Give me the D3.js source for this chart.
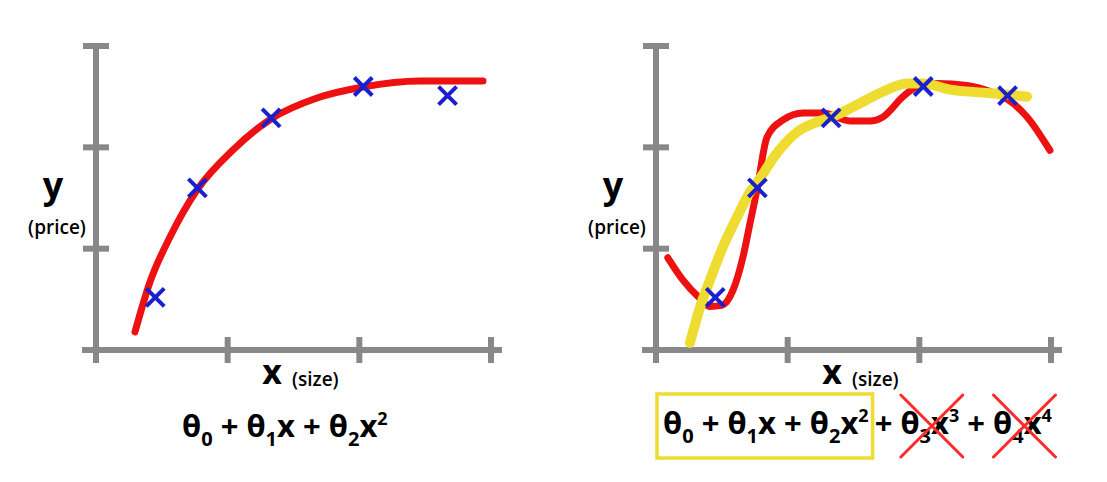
<!DOCTYPE html>
<html>
<head>
<meta charset="utf-8">
<script src="https://cdn.jsdelivr.net/npm/d3@7"></script>
<style>
  html, body { margin: 0; padding: 0; background: #ffffff; }
  svg { display: block; font-family: "Open Sans", "DejaVu Sans", sans-serif; }
</style>
</head>
<body>
<svg id="chart" width="1107" height="482"></svg>
<script>
// ---------- data (x = size, y = price, arbitrary units) ----------
const xTicks = [0, 1, 2, 3];
const yTicks = [0, 1, 2, 3];

const pointsX = [0.45, 0.77, 1.33, 2.03, 2.67];
const pointsY = [0.52, 1.60, 2.29, 2.60, 2.51];

// left panel: quadratic fit (red)
const quadX = [0.296, 0.41, 0.562, 0.767, 1.04, 1.329, 1.678, 2.028, 2.461, 2.939];
const quadY = [0.178, 0.671, 1.115, 1.579, 1.974, 2.28, 2.487, 2.596, 2.655, 2.655];

// right panel: 4th-order overfit (red)
const overX = [0.09, 0.205, 0.334, 0.41, 0.50, 0.585, 0.661, 0.714, 0.767, 0.843, 0.965, 1.116, 1.268, 1.473, 1.625, 1.724, 1.876, 1.982, 2.134, 2.362, 2.537, 2.673, 2.818, 2.992];
const overY = [0.91, 0.69, 0.51, 0.43, 0.44, 0.59, 0.92, 1.25, 1.58, 2.10, 2.27, 2.34, 2.34, 2.26, 2.26, 2.30, 2.50, 2.60, 2.63, 2.61, 2.55, 2.47, 2.30, 1.97];

// right panel: quadratic fit (yellow)
const fitX = [0.258, 0.334, 0.41, 0.509, 0.615, 0.714, 0.767, 0.919, 1.071, 1.223, 1.337, 1.527, 1.724, 1.906, 2.028, 2.233, 2.483, 2.673, 2.818];
const fitY = [0.07, 0.42, 0.69, 1.02, 1.31, 1.56, 1.65, 1.945, 2.15, 2.25, 2.30, 2.42, 2.55, 2.63, 2.63, 2.57, 2.54, 2.52, 2.50];

const yLabel = "y";
const yUnit = "(price)";
const xLabel = "x";
const xUnit = "(size)";

// formula tokens: base text, optional subscript, optional superscript
const formulaKept = [
  {b: "θ", sub: "0"}, {b: " + θ", sub: "1"}, {b: "x + θ", sub: "2"}, {b: "x", sup: "2"}
];
const formulaDropped = [
  {b: "+ "}, {b: "θ", sub: "3", cross: "start"}, {b: "x", sup: "3", cross: "end"},
  {b: " + "}, {b: "θ", sub: "4", cross: "start"}, {b: "x", sup: "4", cross: "end"}
];

// ---------- drawing ----------
const svg = d3.select("#chart");
const C = {axis: "#888888", red: "#ee1111", yellow: "#eedc30", blue: "#1a20cc", text: "#000000", cross: "#ff2a2a"};

const panels = [
  {ox: 96, lines: [{x: quadX, y: quadY, color: C.red, w: 7}]},
  {ox: 656, lines: [{x: overX, y: overY, color: C.red, w: 7}, {x: fitX, y: fitY, color: C.yellow, w: 10}]}
];

panels.forEach(p => {
  const x = d3.scaleLinear().domain([0, 3]).range([p.ox, p.ox + 395]);
  const y = d3.scaleLinear().domain([0, 3]).range([350, 46]);
  const g = svg.append("g");
  const ax = g.append("g").attr("stroke", C.axis).attr("stroke-width", 6);
  // axis lines
  ax.append("line").attr("x1", x(0)).attr("x2", x(0)).attr("y1", y(3)).attr("y2", y(0) + 13);
  ax.append("line").attr("x1", x(0) - 14).attr("x2", x(3) + 11).attr("y1", y(0)).attr("y2", y(0));
  // ticks
  ax.selectAll(".yt").data(yTicks.slice(1)).join("line")
    .attr("x1", x(0) - 13).attr("x2", x(0) + 13).attr("y1", d => y(d)).attr("y2", d => y(d));
  ax.selectAll(".xt").data(xTicks.slice(1)).join("line")
    .attr("x1", d => x(d)).attr("x2", d => x(d)).attr("y1", y(0) - 13).attr("y2", y(0) + 13);

  // curves
  p.lines.forEach(L => {
    const pts = L.x.map((v, i) => [v, L.y[i]]);
    g.append("path")
      .attr("d", d3.line().x(d => x(d[0])).y(d => y(d[1])).curve(d3.curveMonotoneX)(pts))
      .attr("fill", "none").attr("stroke", L.color).attr("stroke-width", L.w)
      .attr("stroke-linecap", "round").attr("stroke-linejoin", "round");
  });

  // data points (crosses)
  const s = 9;
  const pg = g.append("g").attr("stroke", C.blue).attr("stroke-width", 4);
  pointsX.forEach((v, i) => {
    const cx = x(v), cy = y(pointsY[i]);
    pg.append("path").attr("d", `M${cx - s},${cy - s}L${cx + s},${cy + s}M${cx - s},${cy + s}L${cx + s},${cy - s}`);
  });

  // labels
  g.append("text").attr("x", p.ox - 43).attr("y", 198).attr("text-anchor", "middle")
    .attr("font-size", 36).attr("font-weight", 700).text(yLabel);
  g.append("text").attr("x", p.ox - 39).attr("y", 234).attr("text-anchor", "middle")
    .attr("font-size", 19).attr("font-weight", 600).text(yUnit);
  g.append("text").attr("x", p.ox + 176).attr("y", 384).attr("text-anchor", "middle")
    .attr("font-size", 34).attr("font-weight", 700).text(xLabel);
  g.append("text").attr("x", p.ox + 196).attr("y", 386)
    .attr("font-size", 19).attr("font-weight", 600).text(xUnit);
});

// formula helper
function drawFormula(tokens, x0, baseline) {
  const t = svg.append("text").attr("x", x0).attr("y", baseline)
    .attr("font-size", 31).attr("font-weight", 700).attr("fill", C.text)
    .style("white-space", "pre");
  const marks = [];
  let pending = 0;
  tokens.forEach(tok => {
    const b = t.append("tspan").attr("dy", pending).text(tok.b);
    pending = 0;
    let last = b;
    if (tok.sub) {
      last = t.append("tspan").attr("font-size", 20).attr("dy", 9).text(tok.sub);
      pending = -9;
    }
    if (tok.sup) {
      last = t.append("tspan").attr("font-size", 18).attr("dy", -12).text(tok.sup);
      pending = 12;
    }
    marks.push({tok, first: b.node(), last: last.node()});
  });
  return {t, marks};
}

const left = drawFormula(formulaKept, 182, 437);
const right = drawFormula(formulaKept, 663, 434);
const rb = right.t.node().getBBox();
const endX = rb.x + rb.width;
// yellow box around the kept terms
svg.append("rect").attr("x", 657).attr("y", 394).attr("width", endX + 4 - 657).attr("height", 64)
  .attr("fill", "none").attr("stroke", C.yellow).attr("stroke-width", 3.5);
const dropped = drawFormula(formulaDropped, endX + 6, 434);
// red crosses over the dropped terms
let startPos = null;
dropped.marks.forEach(m => {
  const n = m.first;
  if (m.tok.cross === "start") startPos = n.getStartPositionOfChar(0).x;
  if (m.tok.cross === "end") {
    const ln = m.last;
    const e = ln.getEndPositionOfChar(ln.getNumberOfChars() - 1).x;
    const cx = (startPos + e) / 2 + 2, cy = 426, h = 31;
    svg.append("path")
      .attr("d", `M${cx - h},${cy - h}L${cx + h},${cy + h}M${cx - h},${cy + h}L${cx + h},${cy - h}`)
      .attr("stroke", C.cross).attr("stroke-width", 3).attr("stroke-linecap", "round");
  }
});
</script>
</body>
</html>
